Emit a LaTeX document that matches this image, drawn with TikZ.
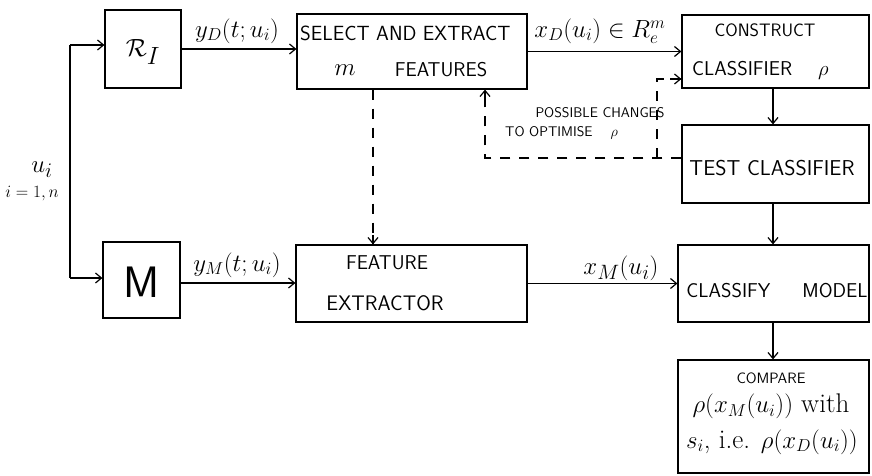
\documentclass[tikz,border=0pt]{standalone}
\usetikzlibrary{arrows.meta}
\begin{document}
\begin{tikzpicture}[x=1pt,y=-1pt,
  box/.style={draw,line width=1.2pt,inner sep=0pt,minimum width=#1},
  arr/.style={line width=1.2pt,-{Straight Barb[length=6pt,width=10pt,line width=1.2pt]}},
  dsh/.style={line width=1.2pt,dash pattern=on 10pt off 9pt},
  lbl/.style={font=\sffamily\fontsize{20}{22}\selectfont,inner sep=0pt},
  sml/.style={font=\sffamily\fontsize{14}{16}\selectfont,inner sep=0pt},
  mth/.style={font=\fontsize{24.5}{26}\selectfont,inner sep=0pt}]
\useasboundingbox (0,0) rectangle (872,476);
% boxes
\node[box=76pt,minimum height=78pt] (R) at (143,49) {};
\node[box=77pt,minimum height=76pt] (M) at (141.5,280) {};
\node[box=230pt,minimum height=75pt] (Sel) at (412,51.5) {};
\node[box=231pt,minimum height=77pt] (FE) at (411.5,283.5) {};
\node[box=187pt,minimum height=73pt] (Con) at (775.5,51.5) {};
\node[box=187pt,minimum height=78pt] (Test) at (775.5,164) {};
\node[box=191pt,minimum height=77pt] (Cls) at (773.5,283.5) {};
\node[box=191pt,minimum height=113pt] (Cmp) at (773.5,416.5) {};
\coordinate (vx) at (773,0);
% box texts
\node[mth,font=\fontsize{36}{38}\selectfont] (Rt) at (143,52) {$\mathcal{R}_I$};
\node[font=\sffamily\fontsize{44}{46}\selectfont,inner sep=0pt] (Mt) at (141.5,282) {M};
\node[lbl,font=\sffamily\fontsize{20.5}{22}\selectfont,anchor=west] (SelA) at (300,33) {SELECT AND EXTRACT};
\node[mth,font=\fontsize{28}{30}\selectfont] (SelM) at (345,70) {$m$};
\node[lbl] (SelB) at (441,70) {FEATURES};
\node[lbl] (FEa) at (387,263) {FEATURE};
\node[lbl,font=\sffamily\fontsize{21}{23}\selectfont] (FEb) at (385,303) {EXTRACTOR};
\node[lbl,font=\sffamily\fontsize{18}{20}\selectfont] (ConA) at (765,30) {CONSTRUCT};
\node[lbl,anchor=west] (ConB) at (692,70) {CLASSIFIER\hspace{26pt}$\rho$};
\node[lbl,font=\sffamily\fontsize{21.5}{23}\selectfont] (TestT) at (772,168) {TEST CLASSIFIER};
\node[lbl,font=\sffamily\fontsize{20}{22}\selectfont] (ClsT) at (777,291) {CLASSIFY\hspace{32pt}MODEL};
\node[lbl,font=\sffamily\fontsize{15}{17}\selectfont] (CmpA) at (771,378) {COMPARE};
\node[mth,font=\fontsize{27}{29}\selectfont] (CmpB) at (771,406) {$\rho(x_M(u_i))$ with};
\node[mth,font=\fontsize{27}{29}\selectfont] (CmpC) at (772,442) {$s_i$, i.e. $\rho(x_D(u_i))$};
% external labels
\node[mth,font=\fontsize{32}{34}\selectfont] (ui) at (42,170) {$u_i$};
\node[mth,font=\fontsize{18}{20}\selectfont] (irange) at (32,194) {$i=1,n$};
\node[mth] (yD) at (237,31) {$y_D(t;u_i)$};
\node[mth] (yM) at (237,265) {$y_M(t;u_i)$};
\node[mth,font=\fontsize{23}{25}\selectfont] (xD) at (600,31) {$x_D(u_i)\in R_e^m$};
\node[mth,font=\fontsize{27.5}{29}\selectfont] (xM) at (621,268) {$x_M(u_i)$};
\node[sml] (pc) at (600,113) {POSSIBLE CHANGES};
\node[sml,anchor=west] (po) at (505,133) {TO OPTIMISE\hspace{18pt}$\rho$};
% connectors
\coordinate (top) at (70,45);
\coordinate (bot) at (70,278);
\draw[line width=1.2pt] (top) -- (bot);
\draw[arr] (top) -- (top -| R.west);
\draw[arr] (bot) -- (bot -| M.west);
\draw[arr] (R.east) -- (R.east -| Sel.west);
\draw[arr] (M.east |- 0,283) -- (FE.west |- 0,283);
\draw[arr] (Sel.east) -- (Sel.east -| Con.west);
\draw[arr] (FE.east) -- (FE.east -| Cls.west);
\draw[arr] (Con.south -| vx) -- (Test.north -| vx);
\draw[arr] (Test.south -| vx) -- (Cls.north -| vx);
\draw[arr] (Cls.south -| vx) -- (Cmp.north -| vx);
\coordinate (d1) at (373,0);
\draw[dsh] (Sel.south -| d1) -- (FE.north -| d1);
\draw[arr] (373,235) -- (FE.north -| d1);
\coordinate (fb) at (485,158);
\coordinate (fb2) at (657,158);
\coordinate (fb3) at (657,79);
\draw[dsh] (Test.west |- fb) -- (fb) -- (fb |- Sel.south);
\draw[arr] (485,100) -- (fb |- Sel.south);
\draw[dsh] (fb2) -- (fb3) -- (fb3 -| Con.west);
\draw[arr] (670,79) -- (fb3 -| Con.west);
\end{tikzpicture}
\end{document}
